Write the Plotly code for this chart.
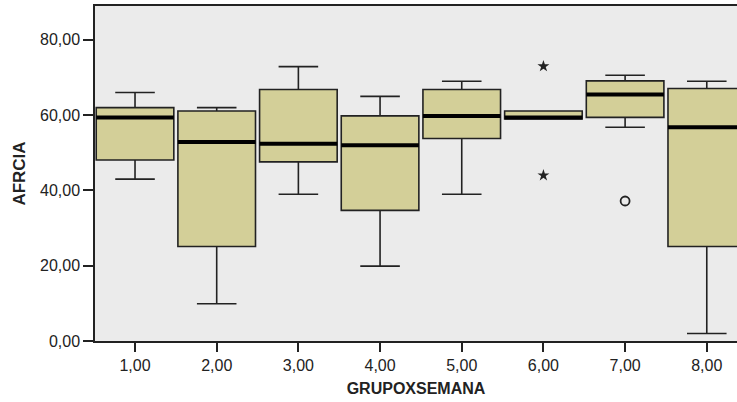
import plotly.graph_objects as go

groups = [1, 2, 3, 4, 5, 6, 7, 8]
tick_labels = ["1,00", "2,00", "3,00", "4,00", "5,00", "6,00", "7,00", "8,00"]
lower_whisker = [43.0, 9.9, 39.0, 19.9, 39.0, 59.0, 56.8, 2.0]
q1 = [48.1, 25.1, 47.6, 34.7, 53.8, 59.0, 59.4, 25.1]
median = [59.4, 52.9, 52.4, 52.0, 59.8, 59.4, 65.5, 56.8]
q3 = [62.0, 61.1, 66.8, 59.8, 66.8, 61.1, 69.1, 67.1]
upper_whisker = [66.0, 62.0, 72.9, 65.0, 69.0, 61.1, 70.6, 69.0]

extreme_x = [6, 6]
extreme_y = [73.0, 44.0]
outlier_x = [7]
outlier_y = [37.2]

y_ticks = [0, 20, 40, 60, 80]
y_tick_labels = ["0,00", "20,00", "40,00", "60,00", "80,00"]

BOX_W = 0.95
FILL = "#d3cf98"
LINE = "#222222"
FONT = "Liberation Sans, Arial, sans-serif"

fig = go.Figure()
fig.add_trace(go.Box(
    x=groups, q1=q1, median=median, q3=q3,
    lowerfence=lower_whisker, upperfence=upper_whisker,
    width=BOX_W, whiskerwidth=0.51, boxpoints=False,
    fillcolor=FILL, line=dict(color=LINE, width=1.6),
    showlegend=False, hoverinfo="skip",
))

mx, my = [], []
for g, m in zip(groups, median):
    mx += [g - BOX_W / 2, g + BOX_W / 2, None]
    my += [m, m, None]
fig.add_trace(go.Scatter(x=mx, y=my, mode="lines",
                         line=dict(color="#000000", width=4),
                         showlegend=False, hoverinfo="skip"))

fig.add_trace(go.Scatter(x=extreme_x, y=extreme_y, mode="markers",
                         marker=dict(symbol="star", size=9, color="#222222"),
                         showlegend=False, hoverinfo="skip"))
fig.add_trace(go.Scatter(x=outlier_x, y=outlier_y, mode="markers",
                         marker=dict(symbol="circle-open", size=9,
                                     color="#222222", line=dict(width=1.8)),
                         showlegend=False, hoverinfo="skip"))

fig.update_layout(
    width=737, height=402,
    margin=dict(l=95, r=0, t=6, b=61),
    paper_bgcolor="white",
    plot_bgcolor="#ebebeb",
    font=dict(family=FONT, size=16, color="#222222"),
    xaxis=dict(
        type="linear", range=[0.51, 8.37],
        tickvals=groups, ticktext=tick_labels,
        showgrid=False, zeroline=False,
        showline=True, linecolor="#222222", linewidth=1.5, mirror=True,
        ticks="outside", ticklen=9, tickcolor="#222222", tickwidth=1.5,
        title=dict(text="<b>GRUPOXSEMANA</b>", font=dict(size=16), standoff=10),
    ),
    yaxis=dict(
        range=[0, 89],
        tickvals=y_ticks, ticktext=y_tick_labels,
        showgrid=False, zeroline=False,
        showline=True, linecolor="#222222", linewidth=1.5,
        ticks="outside", ticklen=10, tickcolor="#222222", tickwidth=1.5,
        title=dict(text="<b>AFRCIA</b>", font=dict(size=17), standoff=10),
    ),
)

fig.write_html("out.html",
               config={"displayModeBar": False},
               post_script="document.body.style.margin='0';document.body.style.overflow='hidden';")
